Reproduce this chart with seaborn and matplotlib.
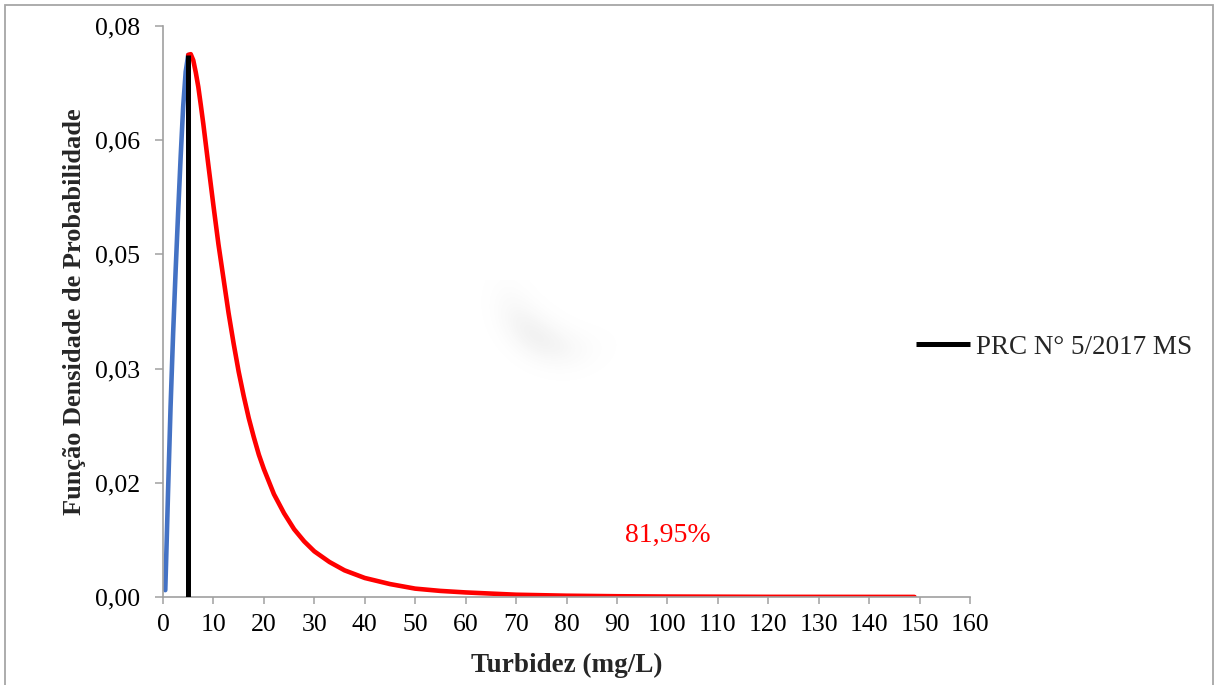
import numpy as np
import matplotlib
matplotlib.use("Agg")
import matplotlib.pyplot as plt
import seaborn as sns
from matplotlib.patches import Rectangle

# Turbidity probability density: rising branch (below the limit) and tail (above it)
blue_x = [0.45, 0.7, 1.0, 1.5, 2.0, 2.5, 3.0, 3.5, 4.0, 4.5, 5.0]
blue_y = [0.0009, 0.0066, 0.0138, 0.0250, 0.0345, 0.0428, 0.0505, 0.0578, 0.0644,
          0.0690, 0.0712]

red_x = [5, 5.5, 6, 6.5, 7, 7.5, 8, 9, 10, 11, 12, 13, 14, 15, 16, 17, 18, 19, 20,
         22, 24, 26, 28, 30, 33, 36, 40, 45, 50, 55, 60, 70, 80, 90, 100, 120, 149]
red_y = [0.0712, 0.0713, 0.0705, 0.0689, 0.0670, 0.0646, 0.0621, 0.0567, 0.0514,
         0.0463, 0.0418, 0.0373, 0.0333, 0.0296, 0.0264, 0.0235, 0.0210, 0.0187,
         0.0168, 0.0135, 0.0110, 0.0089, 0.0073, 0.0060, 0.0046, 0.0035, 0.0025,
         0.0017, 0.0011, 0.0008, 0.0006, 0.0003, 0.00017, 0.0001, 0.00006,
         0.00002, 0.00001]

limit_x = 5
limit_label = "PRC N° 5/2017 MS"
share_label = "81,95%"
share_pos = (100, 0.0081)

x_ticks = list(range(0, 170, 10))
y_ticks = [0.0, 0.015, 0.03, 0.045, 0.06, 0.075]
y_tick_labels = ["0,00", "0,02", "0,03", "0,05", "0,06", "0,08"]

sns.set_theme(style="white")
plt.rcParams["font.family"] = ["Liberation Serif", "DejaVu Serif"]

W, H = 1217, 685
fig = plt.figure(figsize=(W / 100, H / 100), dpi=100)
fig.patch.set_facecolor("white")

# axes box in pixel terms
left, right, top, bottom = 163, 970, 26, 597
ax = fig.add_axes([left / W, 1 - bottom / H, (right - left) / W, (bottom - top) / H])

sns.lineplot(x=blue_x, y=blue_y, ax=ax, color="#4472C4", linewidth=3.3,
             sort=False, estimator=None, solid_capstyle="round",
             solid_joinstyle="round")
sns.lineplot(x=red_x, y=red_y, ax=ax, color="#FF0000", linewidth=3.3,
             sort=False, estimator=None, solid_capstyle="round",
             solid_joinstyle="round")
ax.plot([limit_x, limit_x], [0, red_y[0]], color="black", linewidth=3.6,
        solid_capstyle="butt", label=limit_label, zorder=4)

ax.text(share_pos[0], share_pos[1], share_label, color="#FF0000",
        fontsize=20, ha="center", va="center")

ax.set_xlim(0, 160)
ax.set_ylim(0, 0.075)
ax.set_xticks(x_ticks)
ax.set_xticklabels([str(v) for v in x_ticks])
ax.set_yticks(y_ticks)
ax.set_yticklabels(y_tick_labels)

spine_col = "#A0A0A0"
for s in ["top", "right"]:
    ax.spines[s].set_visible(False)
for s in ["left", "bottom"]:
    ax.spines[s].set_color(spine_col)
    ax.spines[s].set_linewidth(1.2)
ax.tick_params(axis="x", direction="out", length=5, width=1.1, color=spine_col,
               labelsize=18.5, pad=7, labelcolor="black", bottom=True)
ax.tick_params(axis="y", direction="out", length=5.8, width=1.1, color=spine_col,
               labelsize=18.5, pad=11, labelcolor="black", left=True)
ax.grid(False)

ax.set_xlabel("Turbidez (mg/L)", fontsize=19.5, fontweight="bold")
ax.set_ylabel("Função Densidade de Probabilidade", fontsize=19,
              fontweight="bold")
ax.xaxis.set_label_coords((567 - left) / (right - left), -(653 - bottom) / (bottom - top))
ax.yaxis.set_label_coords(-(left - 86) / (right - left), 0.5)

ax.legend(loc="center left", bbox_to_anchor=(916 / W, 1 - 347 / H),
          bbox_transform=fig.transFigure, frameon=False, fontsize=19.5,
          handlelength=2.0, handletextpad=0.2, borderpad=0, borderaxespad=0)

# outer frame of the chart area
fig.add_artist(Rectangle((5 / W, -0.05), (1213 - 5) / W, 1 - 5 / H + 0.05,
                         transform=fig.transFigure, fill=False,
                         edgecolor="#A6A6A6", linewidth=1.3, zorder=10))

# faint smudge in the plot area
x0, y0, sw, sh = 460, 250, 200, 150
yy, xx = np.mgrid[0:sh, 0:sw]
cx, cy, R = 575 - x0, 280 - y0, 68
r = np.hypot(xx - cx, yy - cy)
ang = np.degrees(np.arctan2(yy - cy, xx - cx))
band = np.exp(-((r - R) ** 2) / (2 * 14.0 ** 2))
weight = np.exp(-((ang - 125) / 38.0) ** 2)
alpha = 0.11 * band * weight
img = np.zeros((sh, sw, 4))
img[..., :3] = 0.55
img[..., 3] = alpha
fig.figimage(img, xo=x0, yo=H - y0 - sh, origin="upper", zorder=5)

fig.savefig("out.png", dpi=100, facecolor="white")
